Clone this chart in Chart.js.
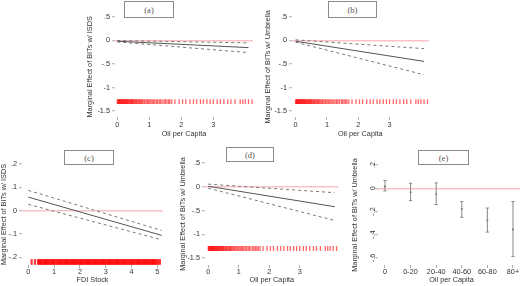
<!DOCTYPE html>
<html>
<head>
<meta charset="utf-8">
<script src="https://cdn.jsdelivr.net/npm/chart.js@4.4.1/dist/chart.umd.min.js"></script>
<style>
  html, body { margin: 0; padding: 0; background: #fff; overflow: hidden; }
  #fig { position: relative; width: 520px; height: 286px; overflow: hidden; }
  #fig canvas { position: absolute; }
  .panel-title {
    position: absolute; box-sizing: border-box; border: 1px solid #8a8a8a; background: #fff;
    font: 8.5px "Liberation Serif", serif; color: #555;
    display: flex; align-items: center; justify-content: center;
  }
</style>
</head>
<body>
<div id="fig">
  <canvas id="panel-a" width="174" height="143" style="left:86px;top:0px"></canvas>
  <canvas id="panel-b" width="170" height="143" style="left:264px;top:0px"></canvas>
  <canvas id="panel-c" width="170" height="143" style="left:0px;top:143px"></canvas>
  <canvas id="panel-d" width="165" height="143" style="left:179px;top:143px"></canvas>
  <canvas id="panel-e" width="179" height="143" style="left:351px;top:143px"></canvas>
  <div class="panel-title" style="left:124px;top:1px;width:50px;height:17px">(a)</div>
  <div class="panel-title" style="left:328px;top:1px;width:49px;height:17px">(b)</div>
  <div class="panel-title" style="left:64px;top:150px;width:50px;height:15px">(c)</div>
  <div class="panel-title" style="left:226px;top:147px;width:48px;height:15px">(d)</div>
  <div class="panel-title" style="left:418px;top:150px;width:51px;height:15px">(e)</div>
</div>
<script>
// --- Data --- //
const oilTicks = [0, 1, 2, 3];
const oilYTicks = [0.5, 0, -0.5, -1, -1.5];
const fdiTicks = [0, 1, 2, 3, 4, 5];
const fdiYTicks = [0.2, 0.1, 0, -0.1, -0.2];

// (a) BITs w/ ISDS x oil per capita
const aX = [0, 4.1];
const aMid = [-0.02, -0.155];
const aHigh = [-0.005, -0.055];
const aLow = [-0.035, -0.26];

// (b) BITs w/ Umbrella x oil per capita
const bX = [0, 4.1];
const bMid = [-0.02, -0.447];
const bHigh = [0.01, -0.177];
const bLow = [-0.04, -0.73];

// (c) BITs w/ ISDS x FDI stock
const cX = [0, 5.17];
const cMid = [0.058, -0.106];
const cHigh = [0.087, -0.085];
const cLow = [0.027, -0.125];

// (d) BITs w/ Umbrella x oil per capita
const dX = [0, 4.15];
const dMid = [0.01, -0.42];
const dHigh = [0.055, -0.125];
const dLow = [-0.03, -0.71];

// (e) BITs w/ Umbrella by oil per capita bins
const eCats = ['0', '0-20', '20-40', '40-60', '60-80', '80+'];
const ePoint = [0.015, -0.034, -0.05, -0.177, -0.277, -0.354];
const eHigh = [0.066, 0.043, 0.046, -0.114, -0.17, -0.114];
const eLow = [-0.023, -0.106, -0.14, -0.25, -0.377, -0.586];
const eYTicks = [0.2, 0, -0.2, -0.4, -0.6];
const eXTicks = [0, 1, 2, 3, 4, 5];

// rug of observations
const oilRugLevel = -1.3;
const fdiRugLevel = -0.22;
const oilRug = [0.00, 0.02, 0.03, 0.05, 0.06, 0.08, 0.09, 0.11, 0.12, 0.14, 0.15, 0.17, 0.19, 0.2, 0.22,
  0.24, 0.25, 0.27, 0.29, 0.3, 0.32, 0.34, 0.36, 0.38, 0.4, 0.42, 0.44, 0.46, 0.48, 0.5, 0.52, 0.55,
  0.57, 0.6, 0.62, 0.65, 0.68, 0.7, 0.73, 0.76, 0.79, 0.83, 0.86, 0.9, 0.94, 0.97, 1.01, 1.05, 1.09,
  1.13, 1.17, 1.22, 1.26, 1.31, 1.35, 1.4, 1.46, 1.5, 1.55, 1.6, 1.64, 1.7, 1.8, 1.93, 2.04, 2.14,
  2.27, 2.38, 2.48, 2.6, 2.69, 2.8, 2.9, 3.0, 3.12, 3.22, 3.33, 3.45, 3.55, 3.68, 3.84, 3.92, 4.0, 4.1, 4.21];
const fdiRug = [0.13, 0.26, 0.38, 0.42, 0.46, 0.5, 0.55, 0.6, 0.64, 0.69, 0.73, 0.78, 0.82, 0.87, 0.91,
  0.96, 1.0, 1.05, 1.1, 1.14, 1.19, 1.23, 1.28, 1.32, 1.37, 1.41, 1.46, 1.5, 1.55, 1.59, 1.64, 1.68,
  1.73, 1.77, 1.82, 1.86, 1.91, 1.95, 2.0, 2.04, 2.09, 2.13, 2.18, 2.22, 2.27, 2.31, 2.36, 2.4, 2.45,
  2.49, 2.54, 2.58, 2.63, 2.67, 2.72, 2.76, 2.81, 2.85, 2.9, 2.94, 2.99, 3.03, 3.08, 3.12, 3.17, 3.21,
  3.26, 3.3, 3.35, 3.39, 3.44, 3.48, 3.53, 3.57, 3.62, 3.66, 3.71, 3.75, 3.8, 3.84, 3.89, 3.93, 3.98,
  4.02, 4.07, 4.11, 4.16, 4.2, 4.25, 4.29, 4.34, 4.38, 4.43, 4.47, 4.52, 4.56, 4.61, 4.65, 4.7, 4.74,
  4.79, 4.83, 4.88, 4.92, 4.97, 5.03, 5.1];

// --- Styles --- //
const fontFamily = '"Liberation Sans", Arial, sans-serif';
const fontSize = 7.3;
const textColor = '#333';
const tickGray = '#999';
const zeroPink = 'rgba(240, 120, 130, 0.45)';

Chart.defaults.font.family = fontFamily;
Chart.defaults.font.size = fontSize;
Chart.defaults.color = textColor;

// Stata-like number labels: .5, -.5, 0
const stataFmt = v => String(Math.round(v * 100) / 100).replace('0.', '.');

const pts = (xs, ys) => xs.map((x, i) => ({ x: x, y: ys[i] }));

function effectLines(xs, mid, high, low) {
    const base = { type: 'line', showLine: true, pointRadius: 0, borderWidth: 1, fill: false };
    return [
        { ...base, data: pts(xs, mid), borderColor: '#555' },
        { ...base, data: pts(xs, high), borderColor: '#777', borderDash: [3, 3] },
        { ...base, data: pts(xs, low), borderColor: '#777', borderDash: [3, 3] }
    ];
}

function rug(values, level, radius, width, color) {
    return {
        type: 'scatter',
        data: values.map(v => ({ x: v, y: level })),
        pointStyle: 'line',
        rotation: 90,
        pointRadius: radius,
        borderWidth: width,
        borderColor: color,
        backgroundColor: color
    };
}

function makePanel(id, o) {
    return new Chart(document.getElementById(id), {
        type: 'scatter',
        data: { datasets: o.datasets },
        options: {
            responsive: false,
            animation: false,
            events: [],
            layout: { padding: o.padding },
            plugins: { legend: { display: false }, tooltip: { enabled: false } },
            scales: {
                x: {
                    type: 'linear', min: o.xMin, max: o.xMax,
                    afterBuildTicks: axis => { axis.ticks = o.xTicks.map(v => ({ value: v })); },
                    afterFit: axis => { axis.height = o.xAxisHeight; },
                    border: { display: false },
                    grid: { drawOnChartArea: false, tickLength: 3, tickColor: tickGray, tickWidth: 0.8 },
                    ticks: { padding: o.xTickPad, autoSkip: false, maxRotation: 0, callback: o.xLabel || stataFmt },
                    title: { display: true, text: o.xTitle, padding: 0, color: textColor }
                },
                y: {
                    type: 'linear', min: o.yMin, max: o.yMax,
                    afterBuildTicks: axis => { axis.ticks = o.yTicks.map(v => ({ value: v })); },
                    afterFit: axis => { axis.width = o.yAxisWidth; },
                    border: { display: false },
                    grid: {
                        drawOnChartArea: true,
                        color: ctx => (ctx.tick && ctx.tick.value === 0) ? zeroPink : 'rgba(0,0,0,0)',
                        lineWidth: 1.5,
                        tickLength: 3, tickColor: tickGray, tickWidth: 0.8
                    },
                    ticks: { display: o.yTickDisplay !== false, padding: 2, callback: stataFmt },
                    title: { display: true, text: o.yTitle, padding: 0, color: textColor }
                }
            }
        },
        plugins: o.plugins || []
    });
}

// rotated y labels for panel (e)
const rotatedYLabels = {
    id: 'rotatedYLabels',
    afterDraw(chart) {
        const { ctx, chartArea } = chart;
        const y = chart.scales.y;
        ctx.save();
        ctx.font = `${fontSize}px ${fontFamily}`;
        ctx.fillStyle = textColor;
        ctx.textAlign = 'center';
        ctx.textBaseline = 'middle';
        eYTicks.forEach(v => {
            ctx.save();
            ctx.translate(chartArea.left - 5, y.getPixelForValue(v));
            ctx.rotate(-Math.PI / 2);
            ctx.fillText(stataFmt(v), 0, 0);
            ctx.restore();
        });
        ctx.restore();
    }
};

const oilRugColor = 'rgba(255, 0, 0, 0.6)';

// --- Panels --- //
makePanel('panel-a', {
    datasets: [...effectLines(aX, aMid, aHigh, aLow), rug(oilRug, oilRugLevel, 2.4, 1.3, oilRugColor)],
    padding: { left: 0, top: 16.7, right: 7, bottom: 4.4 },
    xMin: -0.072, xMax: 4.24, yMin: -1.625, yMax: 0.5,
    xTicks: oilTicks, yTicks: oilYTicks,
    xAxisHeight: 21.6, yAxisWidth: 29, xTickPad: 1,
    xTitle: 'Oil per Capita', yTitle: 'Marginal Effect of BITs w/ ISDS'
});

makePanel('panel-b', {
    datasets: [...effectLines(bX, bMid, bHigh, bLow), rug(oilRug, oilRugLevel, 2.4, 1.3, oilRugColor)],
    padding: { left: 0, top: 16.7, right: 2, bottom: 4.4 },
    xMin: -0.115, xMax: 4.25, yMin: -1.625, yMax: 0.5,
    xTicks: oilTicks, yTicks: oilYTicks,
    xAxisHeight: 21.6, yAxisWidth: 28, xTickPad: 1,
    xTitle: 'Oil per Capita', yTitle: 'Marginal Effect of BITs w/ Umbrella'
});

makePanel('panel-c', {
    datasets: [...effectLines(cX, cMid, cHigh, cLow), rug(fdiRug, fdiRugLevel, 2.8, 2.2, 'rgba(255, 0, 0, 0.8)')],
    padding: { left: 0, top: 21, right: 7, bottom: 1.7 },
    xMin: -0.244, xMax: 5.22, yMin: -0.233, yMax: 0.2,
    xTicks: fdiTicks, yTicks: fdiYTicks,
    xAxisHeight: 19.3, yAxisWidth: 22, xTickPad: 0,
    xTitle: 'FDI Stock', yTitle: 'Marginal Effect of BITs w/ ISDS'
});

makePanel('panel-d', {
    datasets: [...effectLines(dX, dMid, dHigh, dLow), rug(oilRug, oilRugLevel, 2.4, 1.3, oilRugColor)],
    padding: { left: 0, top: 20, right: 4, bottom: 1.7 },
    xMin: -0.107, xMax: 4.28, yMin: -1.647, yMax: 0.5,
    xTicks: oilTicks, yTicks: oilYTicks,
    xAxisHeight: 19.3, yAxisWidth: 26, xTickPad: 0,
    xTitle: 'Oil per Capita', yTitle: 'Marginal Effect of BITs w/ Umbrella'
});

const errorBars = eCats.map((c, i) => ({
    type: 'line', showLine: true, pointRadius: 0, borderWidth: 1, borderColor: '#888',
    data: [{ x: i, y: eLow[i] }, { x: i, y: eHigh[i] }]
}));

makePanel('panel-e', {
    datasets: [
        ...errorBars,
        {
            type: 'scatter', pointStyle: 'line', pointRadius: 1.6, borderWidth: 1, borderColor: '#888',
            data: [...pts(eXTicks, eLow), ...pts(eXTicks, eHigh)]
        },
        {
            type: 'scatter', pointStyle: 'circle', pointRadius: 0.9, borderWidth: 0,
            backgroundColor: '#444', data: pts(eXTicks, ePoint)
        }
    ],
    padding: { left: 0, top: 22, right: 5, bottom: 1.7 },
    xMin: -0.273, xMax: 5.47, yMin: -0.66, yMax: 0.2,
    xTicks: eXTicks, yTicks: eYTicks,
    xLabel: v => eCats[v],
    xAxisHeight: 19.3, yAxisWidth: 27, xTickPad: 0,
    yTickDisplay: false,
    xTitle: 'Oil per Capita', yTitle: 'Marginal Effect of BITs w/ Umbrella',
    plugins: [rotatedYLabels]
});
</script>
</body>
</html>
